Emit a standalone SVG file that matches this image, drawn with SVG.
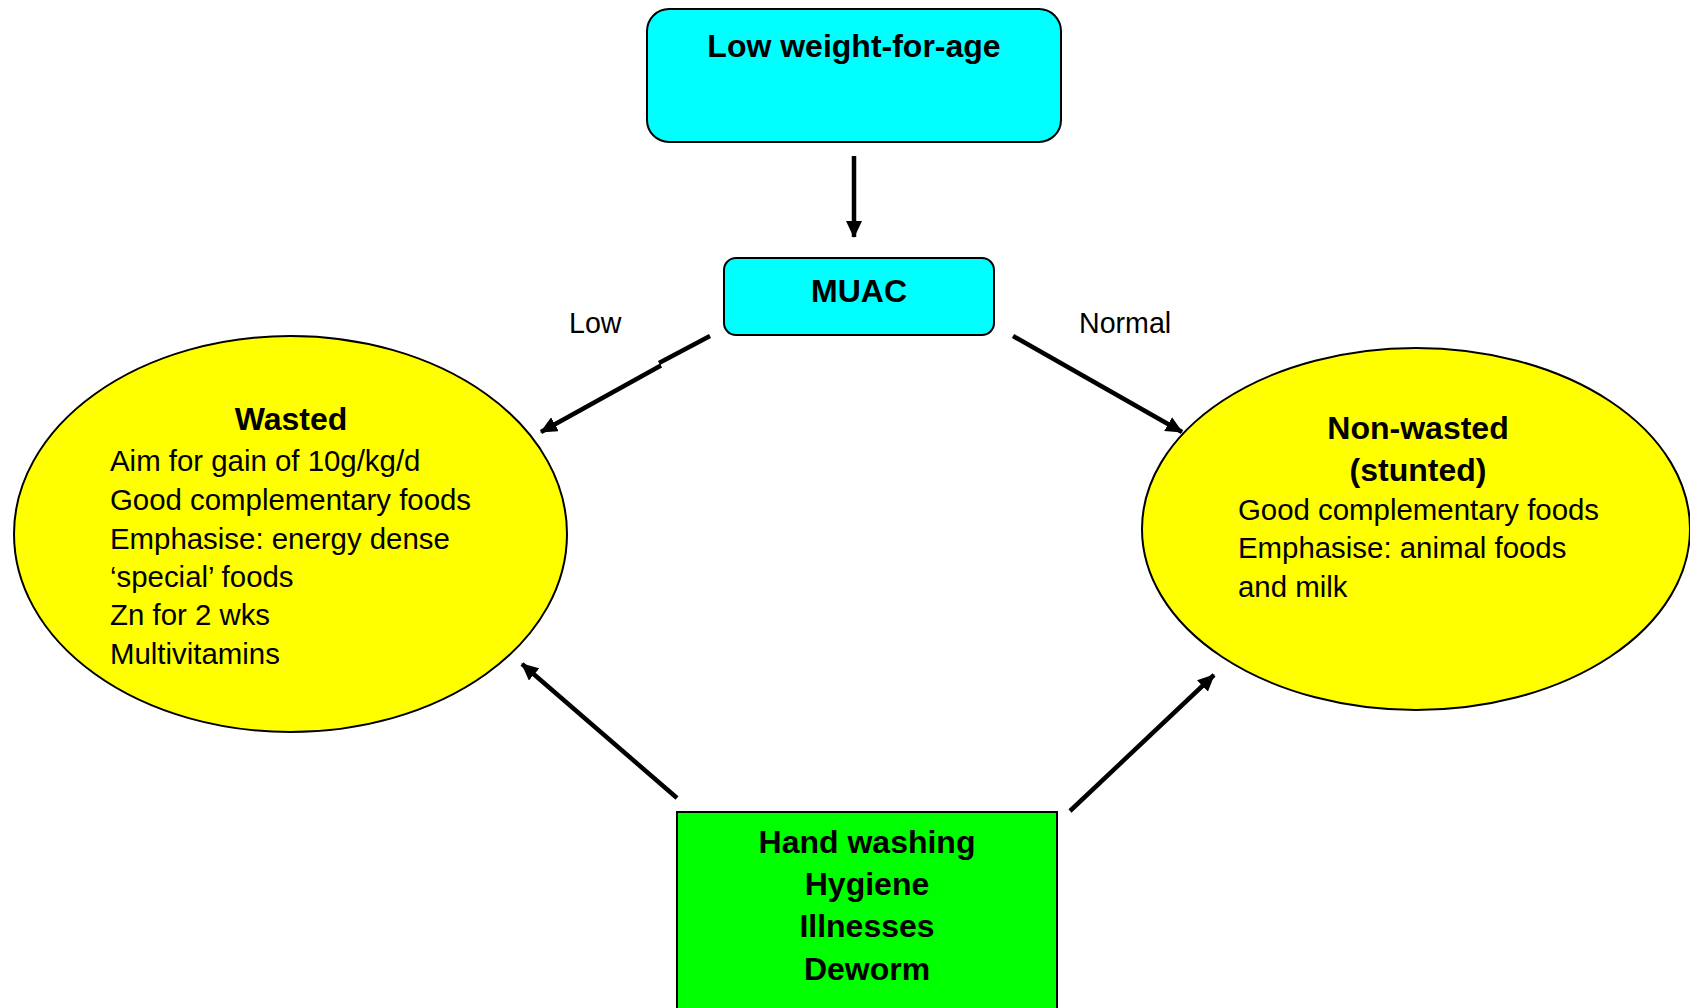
<svg xmlns="http://www.w3.org/2000/svg" width="1690" height="1008" viewBox="0 0 1690 1008">
<style>
text{font-family:"Liberation Sans",Arial,sans-serif;fill:#000}
.b{font-weight:bold;font-size:32px}
.r{font-size:29.4px}
.lbl{font-size:28.6px}
.c{text-anchor:middle}
.conn{stroke:#000;stroke-width:4.5;fill:none}
.node{stroke:#000;stroke-width:2}
</style>
<defs>
<marker id="ah" markerUnits="userSpaceOnUse" markerWidth="18" markerHeight="16" refX="16" refY="8" orient="auto">
<path d="M0,0 L17,8 L0,16 Z" fill="#000"/>
</marker>
</defs>
<rect width="1690" height="1008" fill="#fff"/>
<g id="connectors">
<line class="conn" x1="854" y1="156" x2="854" y2="237" marker-end="url(#ah)"/>
<line class="conn" x1="710" y1="336" x2="659" y2="363"/>
<line class="conn" x1="661" y1="365.5" x2="541" y2="432" marker-end="url(#ah)"/>
<line class="conn" x1="1013" y1="336" x2="1182" y2="432" marker-end="url(#ah)"/>
<line class="conn" x1="677" y1="798" x2="522" y2="664" marker-end="url(#ah)"/>
<line class="conn" x1="1070" y1="811" x2="1214" y2="675" marker-end="url(#ah)"/>
</g>
<g id="label-low"><text class="lbl" x="569" y="333">Low</text></g>
<g id="label-normal"><text class="lbl" x="1079" y="333">Normal</text></g>
<g id="node-lwfa">
<rect class="node" x="647" y="9" width="414" height="133" rx="22" fill="#00FFFF"/>
<text class="b c" x="854" y="57">Low weight-for-age</text>
</g>
<g id="node-muac">
<rect class="node" x="724" y="258" width="270" height="77" rx="12" fill="#00FFFF"/>
<text class="b c" x="859" y="302">MUAC</text>
</g>
<g id="node-wasted">
<ellipse class="node" cx="290.5" cy="534" rx="276.5" ry="198" fill="#FFFF00" stroke-width="1.5"/>
<text class="b c" x="291" y="430">Wasted</text>
<text class="r" x="110" y="471">Aim for gain of 10g/kg/d</text>
<text class="r" x="110" y="510">Good complementary foods</text>
<text class="r" x="110" y="549">Emphasise: energy dense</text>
<text class="r" x="110" y="587">‘special’ foods</text>
<text class="r" x="110" y="625">Zn for 2 wks</text>
<text class="r" x="110" y="664">Multivitamins</text>
</g>
<g id="node-nonwasted">
<ellipse class="node" cx="1416" cy="529" rx="274" ry="181" fill="#FFFF00" stroke-width="1.5"/>
<text class="b c" x="1418" y="439">Non-wasted</text>
<text class="b c" x="1418" y="481">(stunted)</text>
<text class="r" x="1238" y="520">Good complementary foods</text>
<text class="r" x="1238" y="558">Emphasise: animal foods</text>
<text class="r" x="1238" y="597">and milk</text>
</g>
<g id="node-hygiene">
<rect class="node" x="677" y="812" width="380" height="210" fill="#00FF00"/>
<text class="b c" x="867" y="853">Hand washing</text>
<text class="b c" x="867" y="895">Hygiene</text>
<text class="b c" x="867" y="937">Illnesses</text>
<text class="b c" x="867" y="980">Deworm</text>
</g>
</svg>
